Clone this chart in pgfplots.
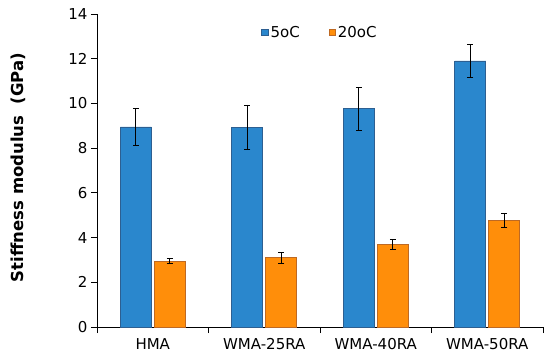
\documentclass[border=0pt]{standalone}
\usepackage{pgfplots}
\pgfplotsset{compat=1.18}
\usepackage{fontspec}
\setmainfont{DejaVu Sans}
\definecolor{bmid}{RGB}{42,135,205}
\definecolor{bline}{RGB}{45,95,145}
\definecolor{omid}{RGB}{255,142,10}
\definecolor{oline}{RGB}{190,105,35}
\begin{document}
\begin{tikzpicture}
\begin{axis}[
  name=ax,
  scale only axis,
  width=446pt, height=313pt,
  ymin=0, ymax=14,
  ytick={0,2,...,14},
  xmin=-0.5, xmax=3.5,
  xtick={0,1,2,3},
  xticklabels={HMA,WMA-25RA,WMA-40RA,WMA-50RA},
  major x tick style={draw=none},
  minor xtick={-0.5,0.5,1.5,2.5,3.5},
  minor x tick style={black, line width=0.8pt},
  minor tick length=6pt,
  axis x line*=bottom,
  axis y line*=left,
  axis line style={black, line width=0.9pt, -},
  y tick style={black, line width=0.8pt},
  tick align=outside,
  major tick length=6pt,
  ticklabel style={font=\fontsize{15}{17}\selectfont},
  /pgf/number format/assume math mode=true,
  xticklabel style={yshift=-2pt},
  ylabel={\textbf{Stiffness modulus\ \ (GPa)}},
  ylabel style={font=\fontsize{16.5}{18}\selectfont, at={(axis description cs:-0.177,0.51)}, anchor=center},
  ybar, bar width=31pt,
  legend style={at={(0.5,0.975)}, anchor=north, draw=none, fill=none,
    legend columns=2, font=\fontsize{15}{17}\selectfont,
    /tikz/every even column/.append style={column sep=27pt}},
  legend image code/.code={\fill[#1] (0pt,-3pt) rectangle (6.5pt,3.5pt);},
  clip=false,
]
\addplot+[bar shift=-17pt, draw=bline, line width=0.6pt, fill=bmid,
  error bars/.cd, y dir=both, y explicit, error bar style={black, line width=0.7pt}, error mark options={rotate=90, mark size=3pt, line width=0.7pt, black}]
  coordinates {(0,8.95) +- (0,0.82) (1,8.93) +- (0,1.0) (2,9.76) +- (0,0.95) (3,11.9) +- (0,0.75)};
\addplot+[bar shift=17pt, draw=oline, line width=0.6pt, fill=omid,
  error bars/.cd, y dir=both, y explicit, error bar style={black, line width=0.7pt}, error mark options={rotate=90, mark size=3pt, line width=0.7pt, black}]
  coordinates {(0,2.95) +- (0,0.12) (1,3.1) +- (0,0.25) (2,3.7) +- (0,0.22) (3,4.77) +- (0,0.33)};
\legend{5oC,20oC}
\end{axis}
\path (ax.south west) ++(-97pt,-36pt) rectangle ([shift={(7pt,14pt)}]ax.north east);
\end{tikzpicture}
\end{document}
